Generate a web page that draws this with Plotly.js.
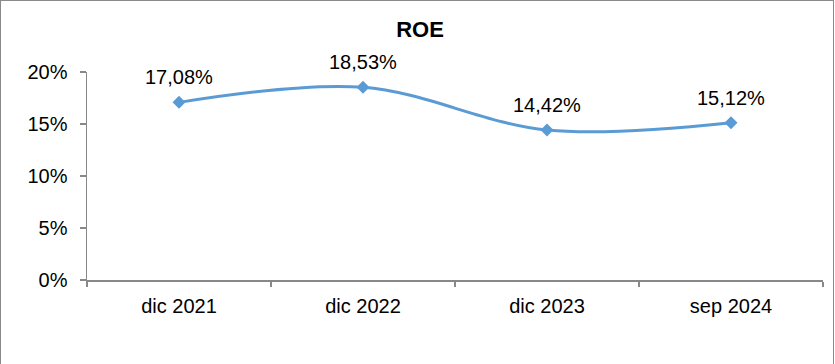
<!DOCTYPE html>
<html>
<head>
<meta charset="utf-8">
<script src="https://cdn.plot.ly/plotly-3.0.1.min.js"></script>
<style>
html,body{margin:0;padding:0;background:#fff;}
#wrap{position:relative;width:835px;height:364px;}
#chart{width:835px;height:364px;}
#frame{position:absolute;left:0;top:0;width:832px;height:364px;border:1px solid #8a8a8a;border-bottom:none;pointer-events:none;}
</style>
</head>
<body>
<div id="wrap"><div id="chart"></div><div id="frame"></div></div>
<script>
const categories = ["dic 2021", "dic 2022", "dic 2023", "sep 2024"];
const roeValues = [0.1708, 0.1853, 0.1442, 0.1512];
const yTickValues = [0, 0.05, 0.10, 0.15, 0.20];

const fmt = v => (v * 100).toFixed(2).replace('.', ',') + '%';
const FONT = "Liberation Sans, Arial, sans-serif";
const blue = "#5B9BD5";

const trace = {
  x: categories,
  y: roeValues,
  type: "scatter",
  mode: "lines+markers",
  line: {color: blue, width: 3, shape: "spline", smoothing: 1},
  marker: {symbol: "diamond", size: 10, color: blue},
  hoverinfo: "none"
};

const annotations = categories.map((c, i) => ({
  x: c, y: roeValues[i], text: fmt(roeValues[i]),
  showarrow: false, yshift: 25,
  font: {family: FONT, size: 20, color: "#000"}
}));

const layout = {
  width: 835, height: 364,
  margin: {l: 87, r: 12, t: 72, b: 84},
  paper_bgcolor: "#fff", plot_bgcolor: "#fff",
  separators: ",.",
  showlegend: false,
  title: {text: "<b>ROE</b>", x: 0.503, xref: "container", xanchor: "center", y: 0.92, yref: "container", yanchor: "middle",
          font: {family: FONT, size: 22, color: "#000"}},
  xaxis: {
    type: "category", range: [-0.5, 3.5],
    showline: true, linecolor: "#888", linewidth: 1.5,
    ticks: "outside", tickson: "boundaries", ticklen: 5, tickcolor: "#888", tickwidth: 1.5,
    showgrid: false, zeroline: false,
    ticklabelstandoff: 7,
    tickfont: {family: FONT, size: 20, color: "#000"}
  },
  yaxis: {
    range: [0, 0.2], tickvals: yTickValues, tickformat: ".0%",
    showline: true, linecolor: "#888", linewidth: 1.5,
    ticks: "outside", ticklen: 6, tickcolor: "#888", tickwidth: 1.5,
    showgrid: false, zeroline: false,
    ticklabelstandoff: 8,
    tickfont: {family: FONT, size: 20, color: "#000"}
  },
  annotations: annotations
};

Plotly.newPlot("chart", [trace], layout, {staticPlot: true, displayModeBar: false});
</script>
</body>
</html>
